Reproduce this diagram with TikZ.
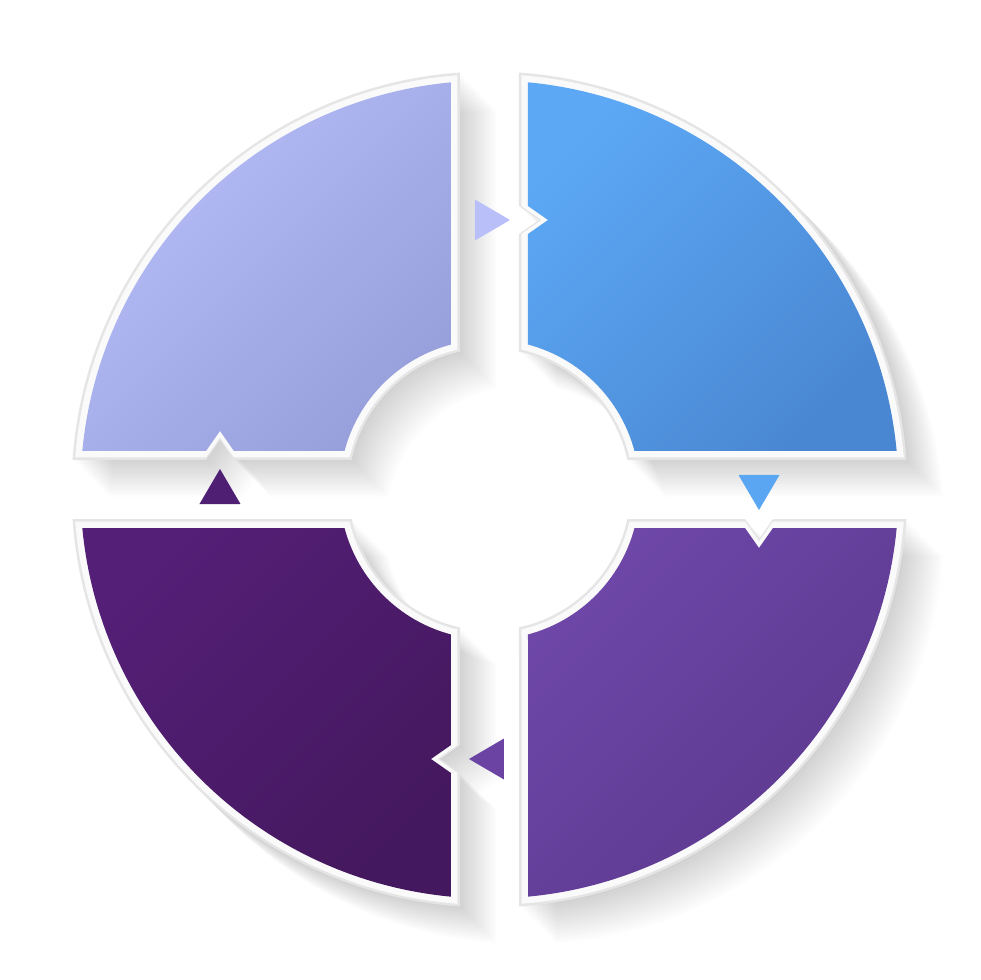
\documentclass[tikz,border=0pt]{standalone}
\usetikzlibrary{calc}
\definecolor{tlA}{HTML}{B7BEFA}
\definecolor{tlB}{HTML}{97A0DB}
\definecolor{trA}{HTML}{5CA8F5}
\definecolor{trB}{HTML}{4A87D2}
\definecolor{brA}{HTML}{6E47A8}
\definecolor{brB}{HTML}{5B388D}
\definecolor{blA}{HTML}{541F77}
\definecolor{blB}{HTML}{44185E}
\definecolor{tlArrow}{HTML}{B9BFF9}
\definecolor{trArrow}{HTML}{5AA6F3}
\definecolor{brArrow}{HTML}{6B44A3}
\definecolor{blArrow}{HTML}{4F1F73}
\definecolor{rimGray}{HTML}{E5E5E5}
\definecolor{rimWhite}{HTML}{FAFAFA}
\newcommand\segG{38.5}
\newcommand\segRi{150}
\newcommand\segRo{409}
\newcommand\segP{269.5}
\newcommand\segND{20}
\newcommand\segNW{14}
% segment path (top-right orientation), grown outward by #1
\newcommand\segpath[1]{%
 ({\segG-#1},{(\segRi-#1)*sqrt(1-((\segG-#1)/(\segRi-#1))^2)})
 -- ({\segG-#1},{\segP-\segNW})
 -- ({\segG-#1+\segND},\segP)
 -- ({\segG-#1},{\segP+\segNW})
 -- ({\segG-#1},{(\segRo+#1)*sqrt(1-((\segG-#1)/(\segRo+#1))^2)})
 arc[start angle={acos((\segG-#1)/(\segRo+#1))}, end angle={asin((\segG-#1)/(\segRo+#1))}, radius={\segRo+#1}]
 -- ({(\segRi-#1)*sqrt(1-((\segG-#1)/(\segRi-#1))^2)},{\segG-#1})
 arc[start angle={asin((\segG-#1)/(\segRi-#1))}, end angle={acos((\segG-#1)/(\segRi-#1))}, radius={\segRi-#1}]
 -- cycle}
\newcommand\arrowpath{(-14.5,290) -- (20.5,269.5) -- (-14.5,249) -- cycle}
\tikzset{
  softshadow/.style={fill=black, opacity=0.0105},
  rimout/.style={fill=rimGray},
  rimin/.style={fill=rimWhite},
  segshade/.style n args={2}{top color=#1, bottom color=#2, shading angle=45},
}
\begin{document}
\begin{tikzpicture}[x=1pt,y=1pt,line join=miter]
\fill[white] (-489.5,-490.5) rectangle (490.5,489.5);
\useasboundingbox (-489.5,-490.5) rectangle (490.5,489.5);
% long soft shadows
\foreach \rot in {0,-90,-180,90}{
  \foreach \k in {1.5,4,6.5,9,11.5,14,16.5,19,21.5,24,26.5,29,31.5,34,36.5}{
    \fill[softshadow, shift={(\k,-\k)}, rotate=\rot] \segpath{9};
  }
}
% rims
\foreach \rot in {0,-90,-180,90}{
  \fill[rimout, rotate=\rot] \segpath{9};
  \fill[rimin, rotate=\rot] \segpath{6.5};
}
% coloured segments
\begin{scope}
  \clip[rotate=0] \segpath{0};
  \shade[segshade={trA}{trB}] (38,38) rectangle (410,410);
\end{scope}
\begin{scope}
  \clip[rotate=-90] \segpath{0};
  \shade[segshade={brA}{brB}] (38,-410) rectangle (410,-38);
\end{scope}
\begin{scope}
  \clip[rotate=-180] \segpath{0};
  \shade[segshade={blA}{blB}] (-410,-410) rectangle (-38,-38);
\end{scope}
\begin{scope}
  \clip[rotate=90] \segpath{0};
  \shade[segshade={tlA}{tlB}] (-410,38) rectangle (-38,410);
\end{scope}
% arrow triangles
\fill[tlArrow, rotate=0] \arrowpath;
\fill[trArrow, rotate=-90] \arrowpath;
\fill[brArrow, rotate=-180] \arrowpath;
\fill[blArrow, rotate=90] \arrowpath;
\end{tikzpicture}
\end{document}
